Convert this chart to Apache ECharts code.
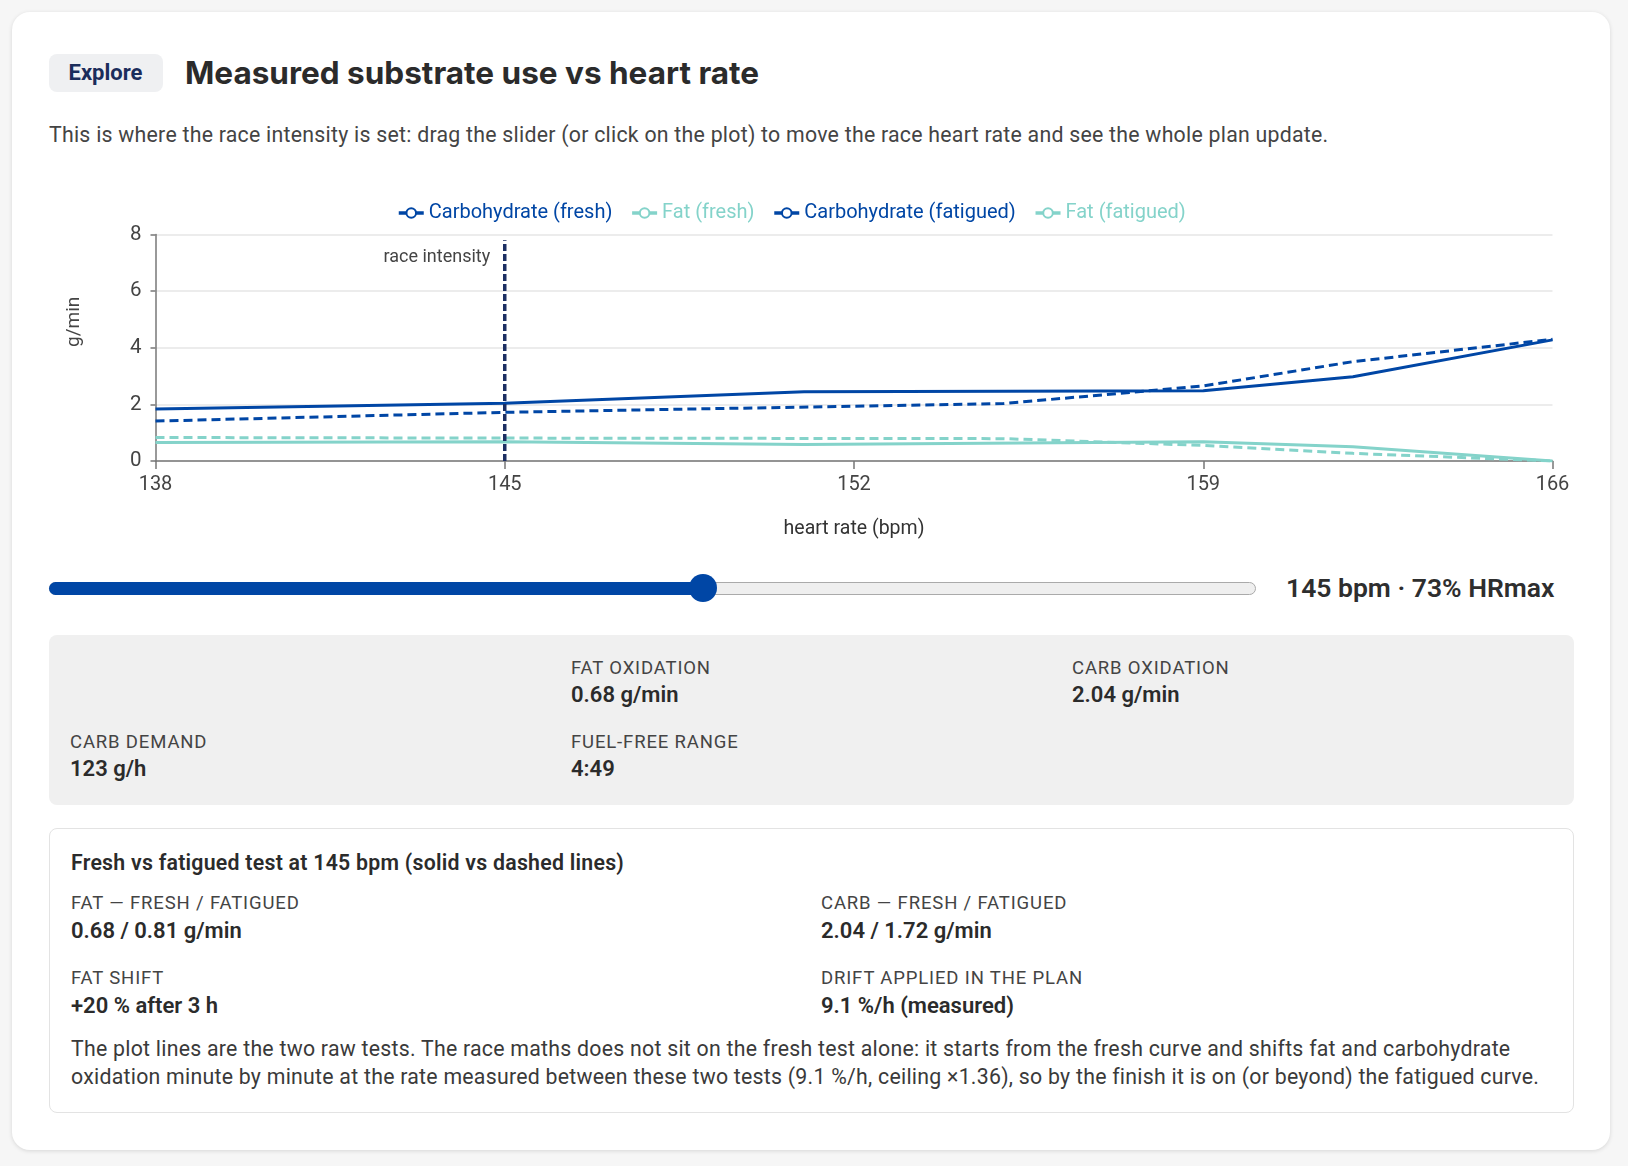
<!DOCTYPE html>
<html><head><meta charset="utf-8">
<script src="https://cdn.jsdelivr.net/npm/echarts@6/dist/echarts.min.js"></script>
<style>
html,body{margin:0;padding:0;}
body{width:1628px;height:1166px;background:#f6f6f6;position:relative;overflow:hidden;font-family:Roboto,"Noto Sans",sans-serif;color:#333;}
.card{position:absolute;left:12px;top:12px;width:1598px;height:1138px;background:#fff;border-radius:18px;box-shadow:0 1px 4px rgba(0,0,0,0.13);}
.abs{position:absolute;white-space:nowrap;}
.badge{left:48.5px;top:54px;width:114px;height:37.5px;line-height:38.5px;background:#eff0f2;border-radius:8px;text-align:center;font-weight:700;font-size:22px;color:#1b2d5b;}
.title{left:185px;top:52.5px;line-height:40px;font-family:Inter,Roboto,sans-serif;font-weight:700;font-size:31.5px;color:#2b2b2b;}
.sub{left:49px;top:121px;line-height:28px;font-size:21.3px;letter-spacing:0.25px;color:#444;}
#chart{position:absolute;left:48.5px;top:170px;width:1525.5px;height:380px;}
.track{left:49px;top:581.5px;width:1207px;height:13px;box-sizing:border-box;background:#efefef;border:1px solid #aaa;border-radius:7px;}
.fill{left:49px;top:581.5px;width:654px;height:13px;background:#0046a5;border-radius:7px 0 0 7px;}
.knob{left:689px;top:574px;width:28px;height:28px;border-radius:50%;background:#0046a5;}
.hr{left:1286px;top:571px;line-height:34px;font-size:26.5px;font-weight:600;color:#2e2e2e;}
.stats{left:48.5px;top:635px;width:1525.5px;height:170px;background:#f0f0f0;border-radius:8px;}
.details{left:48.5px;top:827.5px;width:1525.5px;height:285.5px;box-sizing:border-box;border:1px solid #e3e3e3;border-radius:8px;background:#fff;}
.lab{line-height:24px;font-size:18.5px;letter-spacing:0.85px;color:#444;text-transform:uppercase;}
.val{line-height:28px;font-size:22px;font-weight:600;color:#2b2b2b;}
.dt{line-height:30px;font-size:21.3px;font-weight:600;letter-spacing:0.25px;color:#2b2b2b;}
.para{line-height:28.7px;font-size:21.3px;letter-spacing:0.25px;color:#3a3a3a;}
</style></head>
<body>
<div class="card"></div>
<div class="abs badge">Explore</div>
<div class="abs title">Measured substrate use vs heart rate</div>
<div class="abs sub">This is where the race intensity is set: drag the slider (or click on the plot) to move the race heart rate and see the whole plan update.</div>
<div id="chart"></div>
<div class="abs track"></div>
<div class="abs fill"></div>
<div class="abs knob"></div>
<div class="abs hr">145 bpm · 73% HRmax</div>
<div class="abs stats"></div>
<div class="abs lab" style="left:571px;top:655.6px">Fat oxidation</div>
<div class="abs val" style="left:571px;top:680.6px">0.68 g/min</div>
<div class="abs lab" style="left:1072px;top:655.6px">Carb oxidation</div>
<div class="abs val" style="left:1072px;top:680.6px">2.04 g/min</div>
<div class="abs lab" style="left:70px;top:730.4px">Carb demand</div>
<div class="abs val" style="left:70px;top:755.4px">123 g/h</div>
<div class="abs lab" style="left:571px;top:730.4px">Fuel-free range</div>
<div class="abs val" style="left:571px;top:755.4px">4:49</div>
<div class="abs details"></div>
<div class="abs dt" style="left:71px;top:848.3px">Fresh vs fatigued test at 145 bpm (solid vs dashed lines)</div>
<div class="abs lab" style="left:71px;top:891px">Fat — fresh / fatigued</div>
<div class="abs val" style="left:71px;top:916.7px">0.68 / 0.81 g/min</div>
<div class="abs lab" style="left:821px;top:891px">Carb — fresh / fatigued</div>
<div class="abs val" style="left:821px;top:916.7px">2.04 / 1.72 g/min</div>
<div class="abs lab" style="left:71px;top:966px">Fat shift</div>
<div class="abs val" style="left:71px;top:991.7px">+20 % after 3 h</div>
<div class="abs lab" style="left:821px;top:966px">Drift applied in the plan</div>
<div class="abs val" style="left:821px;top:991.7px">9.1 %/h (measured)</div>
<div class="abs para" style="left:71px;top:1034.6px">The plot lines are the two raw tests. The race maths does not sit on the fresh test alone: it starts from the fresh curve and shifts fat and carbohydrate<br>oxidation minute by minute at the rate measured between these two tests (9.1 %/h, ceiling ×1.36), so by the finish it is on (or beyond) the fatigued curve.</div>
<script>
// ---- data ----
const freshHR = [138, 145, 151, 159, 162, 166];
const carbFresh = [1.84, 2.04, 2.45, 2.48, 2.98, 4.28];
const fatFresh = [0.65, 0.68, 0.58, 0.68, 0.50, 0.0];
const fatiguedHR = [138, 145, 155, 159, 162, 166];
const carbFatigued = [1.41, 1.72, 2.03, 2.65, 3.51, 4.30];
const fatFatigued = [0.83, 0.81, 0.79, 0.55, 0.27, 0.0];
const raceHR = 145;
const raceTop = 7.8;
const xTicks = [138, 145, 152, 159, 166];
const yTicks = [0, 2, 4, 6, 8];
const seriesNames = ['Carbohydrate (fresh)', 'Fat (fresh)', 'Carbohydrate (fatigued)', 'Fat (fatigued)'];

const CARB = '#0046a5', FAT = '#84d3ca', RACE = '#1c2f63';
const FONT = 'Roboto, "Noto Sans", sans-serif';
const zip = (xs, ys) => xs.map((x, i) => [x, ys[i]]);

function lineSeries(name, hr, vals, color, dashed) {
  return {
    name, type: 'line', data: zip(hr, vals), showSymbol: false,
    symbol: 'emptyCircle', symbolSize: 8, color,
    lineStyle: { width: 3, color, type: dashed ? [9, 5] : 'solid' },
    itemStyle: { color, borderWidth: 2.5 },
    silent: true
  };
}

const chart = echarts.init(document.getElementById('chart'));
chart.setOption({
  animation: false,
  textStyle: { fontFamily: FONT },
  legend: {
    left: 343, top: 28, itemWidth: 25, itemHeight: 12, itemGap: 18,
    textStyle: { fontSize: 20 },
    lineStyle: { type: 'solid', width: 3.5 },
    itemStyle: { borderWidth: 3 },
    data: [
      { name: seriesNames[0], textStyle: { color: CARB } },
      { name: seriesNames[1], textStyle: { color: FAT } },
      { name: seriesNames[2], textStyle: { color: CARB } },
      { name: seriesNames[3], textStyle: { color: FAT } }
    ]
  },
  grid: { left: 106.5, right: 22.5, top: 64.6, bottom: 89 },
  xAxis: {
    type: 'value', min: xTicks[0], max: xTicks[xTicks.length - 1], interval: xTicks[1] - xTicks[0],
    name: 'heart rate (bpm)', nameLocation: 'middle', nameGap: 58,
    nameTextStyle: { fontSize: 19.5, color: '#333' },
    axisLine: { lineStyle: { color: '#777', width: 1.5 } },
    axisTick: { show: true, length: 8, lineStyle: { color: '#777', width: 1.5 } },
    axisLabel: { fontSize: 20, color: '#444', margin: 14 },
    splitLine: { show: false }
  },
  yAxis: {
    type: 'value', min: yTicks[0], max: yTicks[yTicks.length - 1], interval: yTicks[1] - yTicks[0],
    name: 'g/min', nameLocation: 'middle', nameGap: 72, nameRotate: 90,
    nameTextStyle: { fontSize: 19, color: '#444', padding: [0, 0, 0, 52] },
    axisLine: { show: true, lineStyle: { color: '#777', width: 1.5 } },
    axisTick: { show: true, length: 5, lineStyle: { color: '#777', width: 1.5 } },
    axisLabel: { fontSize: 20.5, color: '#444', margin: 14 },
    splitLine: { lineStyle: { color: '#e6e6e6', width: 1.5 } }
  },
  series: [
    lineSeries(seriesNames[2], fatiguedHR, carbFatigued, CARB, true),
    lineSeries(seriesNames[3], fatiguedHR, fatFatigued, FAT, true),
    lineSeries(seriesNames[1], freshHR, fatFresh, FAT, false),
    lineSeries(seriesNames[0], freshHR, carbFresh, CARB, false),
    {
      name: 'race intensity', type: 'line', silent: true, showSymbol: false,
      data: [[raceHR, 0], [raceHR, raceTop]],
      lineStyle: { color: RACE, width: 3.5, type: [7, 3] },
      color: RACE, z: 5,
      markPoint: {
        silent: true, symbol: 'circle', symbolSize: 1,
        itemStyle: { color: 'rgba(0,0,0,0)' },
        data: [{ coord: [raceHR, raceTop] }],
        label: { show: true, position: 'left', distance: 14, offset: [0, 17], formatter: 'race intensity', color: '#444', fontSize: 18 }
      }
    }
  ]
});
</script>
</body></html>
